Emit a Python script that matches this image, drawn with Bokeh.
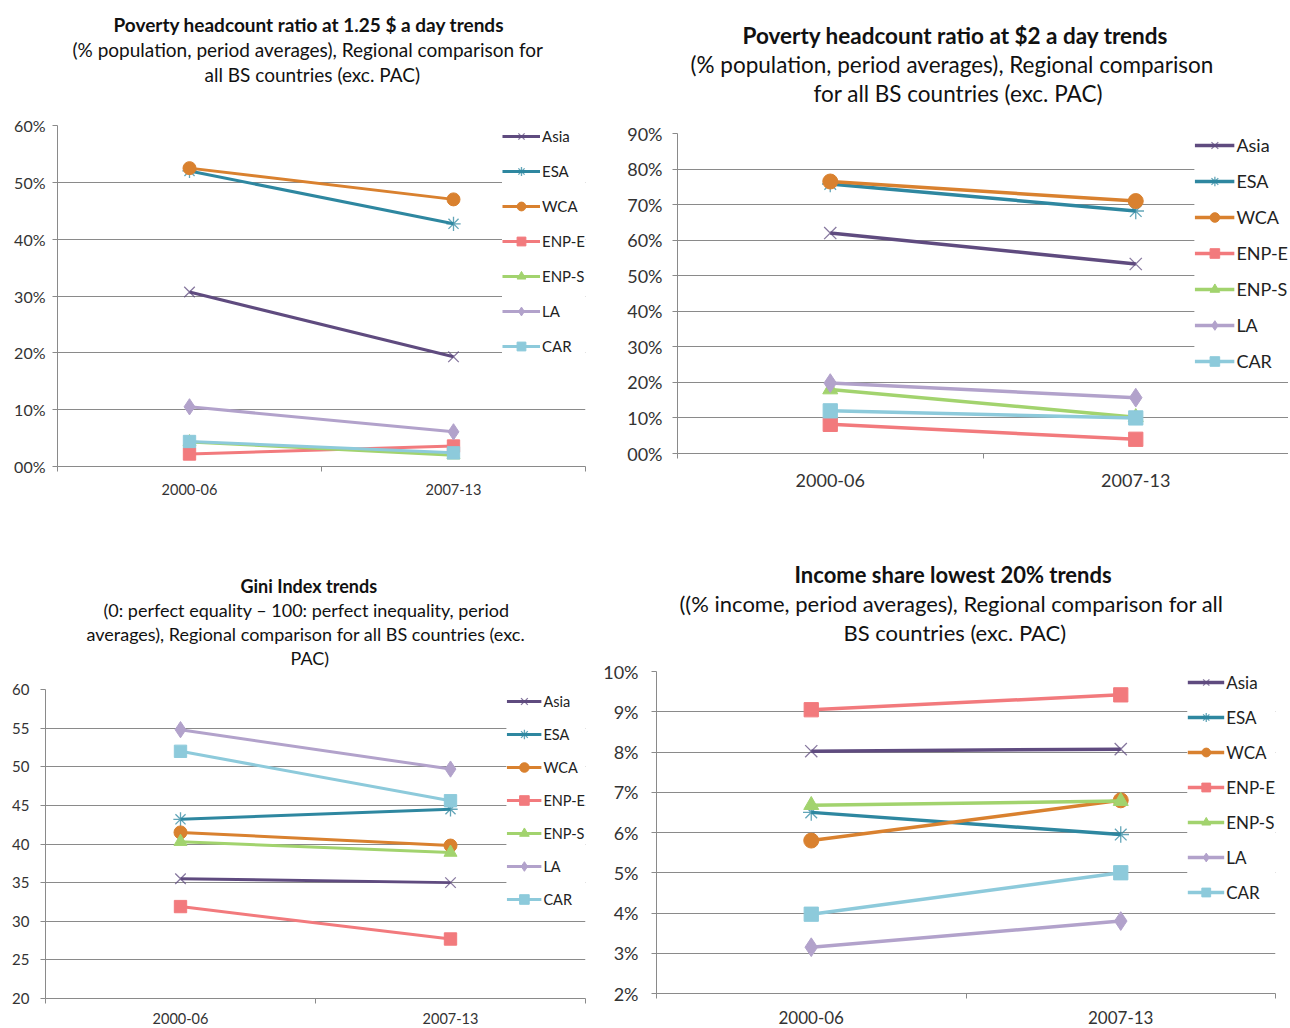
from bokeh.plotting import figure
from bokeh.models import Range1d, FixedTicker, Legend, LegendItem, Title
from bokeh.layouts import row, column
from bokeh.embed import file_html
from bokeh.resources import INLINE

FONT = "Lato"
GRID = "#8a8a8a"
TXT = "#333333"

periods = ["2000-06", "2007-13"]
regions = ["Asia", "ESA", "WCA", "ENP-E", "ENP-S", "LA", "CAR"]

# Poverty headcount ratio at 1.25 $ a day (% population)
pov125_2000_06 = [30.7, 52.0, 52.5, 2.2, 4.3, 10.5, 4.4]
pov125_2007_13 = [19.3, 42.7, 47.0, 3.6, 2.0, 6.1, 2.4]
pov125_ticks = [0, 10, 20, 30, 40, 50, 60]
pov125_labels = ["00%", "10%", "20%", "30%", "40%", "50%", "60%"]

# Poverty headcount ratio at $2 a day (% population)
pov2_2000_06 = [62.0, 75.8, 76.5, 8.2, 18.0, 19.8, 12.0]
pov2_2007_13 = [53.3, 68.2, 71.0, 4.0, 10.2, 15.7, 10.0]
pov2_ticks = [0, 10, 20, 30, 40, 50, 60, 70, 80, 90]
pov2_labels = ["00%", "10%", "20%", "30%", "40%", "50%", "60%", "70%", "80%", "90%"]

# Gini index
gini_2000_06 = [35.5, 43.2, 41.5, 31.9, 40.3, 54.8, 52.0]
gini_2007_13 = [35.0, 44.5, 39.8, 27.7, 38.9, 49.7, 45.6]
gini_ticks = [20, 25, 30, 35, 40, 45, 50, 55, 60]
gini_labels = ["20", "25", "30", "35", "40", "45", "50", "55", "60"]

# Income share held by lowest 20% (%)
share_2000_06 = [8.02, 6.50, 5.80, 9.05, 6.68, 3.15, 3.97]
share_2007_13 = [8.07, 5.95, 6.80, 9.42, 6.78, 3.80, 5.00]
share_ticks = [2, 3, 4, 5, 6, 7, 8, 9, 10]
share_labels = ["2%", "3%", "4%", "5%", "6%", "7%", "8%", "9%", "10%"]

colors = ["#5F4B7F", "#2E87A0", "#D9812F", "#F27A7D", "#A2D36E", "#B2A2CB", "#8DCADB"]
markers = ["x", "asterisk", "circle", "square", "triangle", "diamond", "square"]
marker_rel = [1.15, 1.1, 1.0, 0.95, 1.0, 1.25, 0.95]


def make_chart(width, height, borders, y_lo, y_hi, ticks, labels, v0, v1,
               titles, spacer, ytick_fs, xtick_fs, leg_fs, leg_row, leg_spacing,
               leg_glyph, leg_pad, msize, lw, y_standoff, x_standoff):
    left, right, top, bottom = borders
    p = figure(width=width, height=height, x_range=Range1d(0, len(periods)),
               y_range=Range1d(y_lo, y_hi), output_backend="svg",
               toolbar_location=None, min_border_left=left,
               min_border_right=right, min_border_top=top,
               min_border_bottom=bottom, title=None)
    p.frame_align = False
    p.outline_line_color = None
    p.background_fill_color = "white"
    p.border_fill_color = "white"
    p.xgrid.visible = False
    p.ygrid.ticker = FixedTicker(ticks=ticks)
    p.ygrid.grid_line_color = GRID
    p.ygrid.grid_line_width = 1

    xs = [i + 0.5 for i in range(len(periods))]
    bounds = [i for i in range(len(periods) + 1)]

    xa = p.xaxis[0]
    xa.ticker = FixedTicker(ticks=xs, minor_ticks=bounds)
    xa.major_label_overrides = {x: lab for x, lab in zip(xs, periods)}
    xa.major_tick_line_color = None
    xa.major_tick_out = 0
    xa.major_tick_in = 0
    xa.minor_tick_line_color = GRID
    xa.minor_tick_out = 5
    xa.minor_tick_in = 0
    xa.axis_line_color = GRID
    xa.major_label_text_font = FONT
    xa.major_label_text_font_size = xtick_fs
    xa.major_label_text_color = TXT
    xa.major_label_standoff = x_standoff

    ya = p.yaxis[0]
    ya.ticker = FixedTicker(ticks=ticks)
    ya.major_label_overrides = {t: lab for t, lab in zip(ticks, labels)}
    ya.major_tick_line_color = GRID
    ya.major_tick_out = 5
    ya.major_tick_in = 0
    ya.minor_tick_line_color = None
    ya.axis_line_color = GRID
    ya.major_label_text_font = FONT
    ya.major_label_text_font_size = ytick_fs
    ya.major_label_text_color = TXT
    ya.major_label_standoff = y_standoff

    items = []
    for k, reg in enumerate(regions):
        ys = [v0[k], v1[k]]
        ln = p.line(xs, ys, line_color=colors[k], line_width=lw)
        mk = markers[k]
        if mk in ("x", "asterisk"):
            sc = p.scatter(xs, ys, marker=mk, size=msize * marker_rel[k],
                           line_color=colors[k], line_width=1.3, line_alpha=0.75)
        else:
            sc = p.scatter(xs, ys, marker=mk, size=msize * marker_rel[k],
                           line_color=colors[k], fill_color=colors[k])
        items.append(LegendItem(label=reg, renderers=[ln, sc]))

    leg = Legend(items=items, location="top_right")
    leg.label_text_font = FONT
    leg.label_text_font_size = leg_fs
    leg.label_text_color = "#222222"
    leg.glyph_width = leg_glyph
    leg.glyph_height = leg_row
    leg.label_height = leg_row
    leg.label_standoff = 2
    leg.spacing = leg_spacing
    leg.padding = leg_pad
    leg.margin = 0
    leg.border_line_color = None
    leg.background_fill_color = "white"
    leg.background_fill_alpha = 1.0
    p.add_layout(leg)

    # spacer between the plot area and the title block
    p.add_layout(Title(text=" ", text_font_size="2px", standoff=spacer), "above")
    # title lines, nearest to the plot first
    for (text, bold, fs, off) in reversed(titles):
        p.add_layout(Title(text=text, align="left", offset=off, standoff=0,
                           text_font=FONT, text_font_size=fs,
                           text_font_style="bold" if bold else "normal",
                           text_color="#111111"), "above")
    return p


p1 = make_chart(
    610, 545, (57, 25, 125, 79), 0, 60, pov125_ticks, pov125_labels,
    pov125_2000_06, pov125_2007_13,
    [("Poverty headcount ratio at 1.25 $ a day trends", True, "19px", 56),
     ("(% population, period averages), Regional comparison for", False, "19px", 15),
     ("all BS countries (exc. PAC)", False, "19px", 147)],
    35.5, "16px", "14.5px", "15px", 22, 13, 38, 0, 13, 3, 7, 12)

p2 = make_chart(
    678, 545, (67, 0, 133, 92), 0, 90, pov2_ticks, pov2_labels,
    pov2_2000_06, pov2_2007_13,
    [("Poverty headcount ratio at $2 a day trends", True, "22.5px", 65),
     ("(% population, period averages), Regional comparison", False, "22.5px", 13),
     ("for all BS countries (exc. PAC)", False, "22.5px", 136)],
    22.6, "18px", "18px", "18px", 24, 12, 40, 0, 15, 3.5, 10, 15)

p3 = make_chart(
    600, 481, (45, 15, 144, 27), 20, 60, gini_ticks, gini_labels,
    gini_2000_06, gini_2007_13,
    [("Gini Index trends", True, "18px", 195),
     ("(0: perfect equality \u2013 100: perfect inequality, period", False, "18px", 58),
     ("averages), Regional comparison for all BS countries (exc.", False, "18px", 41),
     ("PAC)", False, "18px", 245)],
    16.6, "15px", "14.5px", "14.5px", 24, 9, 35, 10, 13, 3, 11, 9)

p4 = make_chart(
    688, 481, (55, 13, 126, 33), 2, 10, share_ticks, share_labels,
    share_2000_06, share_2007_13,
    [("Income share lowest 20% trends", True, "22px", 138),
     ("((% income, period averages), Regional comparison for all", False, "22px", 23),
     ("BS countries (exc. PAC)", False, "22px", 187)],
    21.5, "18px", "17px", "17px", 22, 13, 37, 0, 15, 3.5, 13, 12)

layout = column(row(p1, p2), row(p3, p4))
open("out.html", "w").write(file_html(layout, INLINE))
